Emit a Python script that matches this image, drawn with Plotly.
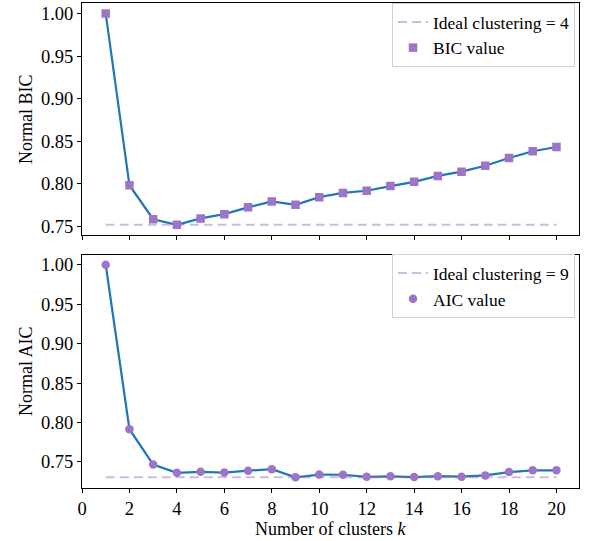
import plotly.graph_objects as go

# Number of mixture components tried
k_values = list(range(1, 21))

# Normalised information criteria per k
bic_values = [1.000, 0.798, 0.758, 0.7515, 0.759, 0.764, 0.772, 0.779, 0.775, 0.784,
              0.789, 0.7915, 0.797, 0.802, 0.809, 0.814, 0.821, 0.830, 0.838, 0.843]
aic_values = [1.000, 0.7915, 0.7468, 0.7362, 0.7375, 0.7365, 0.7390, 0.7408, 0.7305, 0.7340,
              0.7338, 0.7312, 0.7318, 0.7308, 0.7320, 0.7313, 0.7330, 0.7372, 0.7394, 0.7394]

best_bic_k = 4
best_aic_k = 9

x_ticks = list(range(0, 21, 2))
y_ticks = [0.75, 0.80, 0.85, 0.90, 0.95, 1.00]

BLUE = "#1f77b4"
PURPLE = "#9d74c8"
LAVENDER = "rgba(148,103,189,0.45)"
FONT = "Liberation Serif, Times New Roman, serif"
TICK_SIZE = 18.5
TITLE_SIZE = 18
LEGEND_SIZE = 17.5

fig = go.Figure()

panels = [
    ("x", "y", bic_values, best_bic_k, "square", "BIC value", "legend"),
    ("x2", "y2", aic_values, best_aic_k, "circle", "AIC value", "legend2"),
]

for xa, ya, vals, best_k, symbol, label, leg in panels:
    floor = min(vals)
    fig.add_trace(go.Scatter(
        x=k_values, y=vals, mode="lines", xaxis=xa, yaxis=ya,
        line=dict(color=BLUE, width=2.2), showlegend=False, hoverinfo="skip"))
    fig.add_trace(go.Scatter(
        x=[k_values[0], k_values[-1]], y=[floor, floor], mode="lines",
        xaxis=xa, yaxis=ya, legend=leg,
        line=dict(color=LAVENDER, width=2, dash="9px,5px"),
        name=f"Ideal clustering = {best_k}"))
    fig.add_trace(go.Scatter(
        x=k_values, y=vals, mode="markers", xaxis=xa, yaxis=ya, legend=leg,
        marker=dict(color=PURPLE, size=8.5, symbol=symbol, line=dict(width=0)),
        name=label))

axis_common = dict(
    showline=True, linecolor="black", linewidth=1, mirror=True,
    ticks="outside", ticklen=4, tickwidth=1, tickcolor="black",
    showgrid=False, zeroline=False,
    tickfont=dict(family=FONT, size=TICK_SIZE, color="black"),
)

x_range = [0.0, 20.95]

legend_common = dict(
    xanchor="right", yanchor="top",
    bgcolor="rgba(255,255,255,0.8)", bordercolor="#d0d0d0", borderwidth=1,
    font=dict(family=FONT, size=LEGEND_SIZE), itemwidth=30,
)

fig.update_layout(
    width=593, height=541,
    margin=dict(l=82, r=14, t=3, b=53),
    paper_bgcolor="white", plot_bgcolor="white",
    font=dict(family=FONT, size=TICK_SIZE, color="black"),
    xaxis=dict(axis_common, domain=[0, 1], anchor="y", range=x_range,
               tickvals=x_ticks, showticklabels=False),
    yaxis=dict(axis_common, domain=[0.521, 1], anchor="x", range=[0.7391, 1.0124],
               tickvals=y_ticks, tickformat=".2f",
               title=dict(text="Normal BIC", font=dict(family=FONT, size=TITLE_SIZE), standoff=3)),
    xaxis2=dict(axis_common, domain=[0, 1], anchor="y2", range=x_range,
                tickvals=x_ticks),
    yaxis2=dict(axis_common, domain=[0, 0.481], anchor="x2", range=[0.7170, 1.0127],
                tickvals=y_ticks, tickformat=".2f",
                title=dict(text="Normal AIC", font=dict(family=FONT, size=TITLE_SIZE), standoff=3)),
    legend=dict(legend_common, x=0.992, y=1.0),
    legend2=dict(legend_common, x=0.992, y=0.482),
    annotations=[dict(
        text="Number of clusters <i>k</i>", xref="paper", yref="paper",
        x=0.5, y=-0.0598, xanchor="center", yanchor="top", showarrow=False,
        font=dict(family=FONT, size=TITLE_SIZE, color="black"))],
)

fig.write_html("out.html")
